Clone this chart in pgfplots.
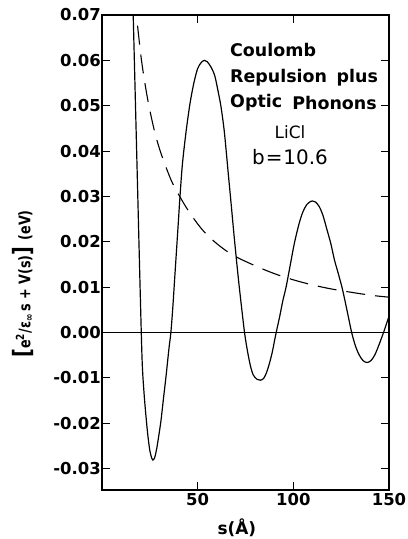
\documentclass[border=0pt]{standalone}
\usepackage{fontspec}
\setmainfont{DejaVu Sans}
\usepackage{graphicx}
\usepackage{pgfplots}
\pgfplotsset{compat=1.18}
\begin{document}
\begin{tikzpicture}
\begin{axis}[
  scale only axis,
  width=287bp, height=475bp,
  at={(0,0)}, anchor=south west,
  xmin=0, xmax=150, ymin=-0.0347, ymax=0.07,
  axis line style={line width=1.3pt},
  xtick={50,100,150},
  xticklabels={50,100,150},
  ytick={-0.03,-0.02,-0.01,0,0.01,0.02,0.03,0.04,0.05,0.06,0.07},
  tick align=inside,
  major tick length=8bp,
  tick style={line width=1.1pt, black},
  xtick pos=both, ytick pos=both,
  xticklabel pos=lower, yticklabel pos=left,
  /pgf/number format/assume math mode=true,
  yticklabel style={/pgf/number format/fixed, /pgf/number format/fixed zerofill, /pgf/number format/precision=2, font=\fontsize{16.5}{17}\selectfont\bfseries, inner xsep=1bp},
  xticklabel style={font=\fontsize{16.5}{17}\selectfont\bfseries, inner ysep=3bp},
  scaled y ticks=false,
  clip=true, clip mode=individual,
]
\addplot[black, line width=1.2pt, smooth, tension=0.5] coordinates {
(15.5,0.0835) (17,0.0585) (18.5,0.0335) (20,0.0085) (21,-0.0065) (22,-0.0135)
(23,-0.0185) (24,-0.0228) (25,-0.0260) (26,-0.0277) (26.6,-0.0281) (27.5,-0.0276)
(28.5,-0.0258) (29.5,-0.0232) (30.8,-0.0195) (32,-0.0150) (33.5,-0.0095) (35,-0.0035)
(36,0.0000) (37,0.0055) (38,0.0120) (39,0.0185) (40,0.0250) (40.6,0.0290)
(42,0.0370) (44,0.0445) (46,0.0505) (48,0.0550) (50,0.0582) (52,0.0596)
(53.6,0.0600) (55,0.0597) (57,0.0585) (59,0.0565) (61,0.0525) (62.3,0.0495)
(64,0.0440) (66,0.0350) (67.2,0.0297) (69,0.0215) (71,0.0130) (72.5,0.0072)
(74.5,0.0000) (76,-0.0040) (77.5,-0.0072) (79,-0.0093) (81,-0.0103) (82.8,-0.0105)
(84.5,-0.0101) (86,-0.0088) (87.5,-0.0068) (89,-0.0043) (90.3,-0.0015) (91.3,0.0005)
(93,0.0038) (94.5,0.0070) (96.2,0.0100) (98,0.0140) (100.5,0.0196) (103,0.0240)
(105,0.0266) (107,0.0282) (109,0.0289) (110,0.0290) (111.5,0.0288) (113.5,0.0278)
(115.5,0.0258) (117.5,0.0228) (119.6,0.0196) (121.5,0.0160) (123.5,0.0130) (125.7,0.0095)
(128,0.0050) (130.5,0.0000) (132.5,-0.0030) (134.5,-0.0050) (136.5,-0.0062) (138.5,-0.0066)
(140.5,-0.0062) (142.5,-0.0050) (144.5,-0.0030) (146,-0.0013) (147.4,0.0003) (148.5,0.0017)
(150,0.0036)
};
\addplot[black, line width=1.1pt, smooth, dash pattern=on 19bp off 10bp] coordinates {
(17,0.0740) (18,0.0700) (19,0.0660) (20.7,0.0598) (23,0.0535) (25,0.0490)
(27.5,0.0443) (30.2,0.0403) (33.5,0.0364) (37,0.0328) (42,0.0290) (46,0.0263)
(51,0.0234) (55,0.0215) (60,0.0196) (65,0.0180) (70,0.0167) (77,0.0153)
(84,0.0140) (92,0.0127) (101,0.0115) (110,0.0105) (118.8,0.0097) (127,0.0091)
(136,0.0085) (143,0.0081) (150,0.0078)
};
\addplot[black, line width=1.1pt] coordinates {(0,0) (150,0)};
\node[anchor=west, font=\fontsize{17.5}{18}\selectfont\bfseries, inner sep=0pt] at (rel axis cs:0.446,0.926) {Coulomb};
\node[anchor=west, font=\fontsize{17.5}{18}\selectfont\bfseries, inner sep=0pt] at (rel axis cs:0.446,0.869) {Repulsion};
\node[anchor=east, font=\fontsize{17.5}{18}\selectfont\bfseries, inner sep=0pt] at (rel axis cs:0.962,0.869) {plus};
\node[anchor=west, font=\fontsize{17.5}{18}\selectfont\bfseries, inner sep=0pt] at (rel axis cs:0.446,0.815) {Optic};
\node[anchor=east, font=\fontsize{17.5}{18}\selectfont\bfseries, inner sep=0pt] at (rel axis cs:0.958,0.815) {Phonons};
\node[font=\fontsize{17}{18}\selectfont, inner sep=0pt] at (rel axis cs:0.655,0.754) {LiCl};
\node[font=\fontsize{20}{21}\selectfont, inner sep=0pt] at (rel axis cs:0.655,0.701) {b{\kern1pt}={\kern1pt}10.6};
\node[rotate=90, font=\fontsize{16}{17}\selectfont\bfseries, inner sep=0pt] at (rel axis cs:-0.276,0.434) {\scalebox{0.8}[1]{{\fontsize{24}{24}\selectfont[}e\textsuperscript{2}/ε\textsubscript{∞}\,s + V(s){\fontsize{24}{24}\selectfont]}\enspace(eV)}};
\node[font=\fontsize{17}{18}\selectfont\bfseries, inner sep=0pt] at (rel axis cs:0.47,-0.08) {s(Å)};
\end{axis}
\pgfresetboundingbox
\useasboundingbox (-102bp,-49bp) rectangle (306bp,490bp);
\end{tikzpicture}
\end{document}
